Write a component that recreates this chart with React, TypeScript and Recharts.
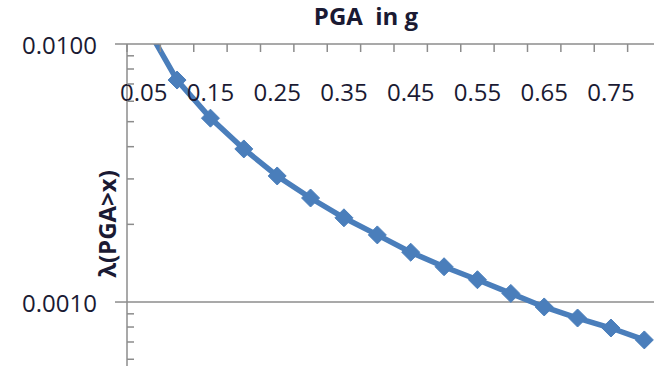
import { LineChart, Line, XAxis, YAxis, ReferenceLine, Label } from 'recharts';

// PGA levels (g) and annual exceedance rate λ(PGA > x)
const pga = [0.05, 0.1, 0.15, 0.2, 0.25, 0.3, 0.35, 0.4, 0.45, 0.5, 0.55, 0.6, 0.65, 0.7, 0.75, 0.8];
const lambda = [
  0.0122, 0.00725, 0.00516, 0.00392, 0.00308, 0.00253, 0.00212, 0.00182,
  0.00156, 0.00137, 0.00122, 0.00108, 0.000957, 0.000867, 0.000793, 0.000713,
];

const xTickLabels = ['0.05', '0.15', '0.25', '0.35', '0.45', '0.55', '0.65', '0.75'];
const xBoundaries = [
  0.025, 0.075, 0.125, 0.175, 0.225, 0.275, 0.325, 0.375, 0.425,
  0.475, 0.525, 0.575, 0.625, 0.675, 0.725, 0.775, 0.825,
];
const yMajorTicks = [0.01, 0.001];
const yMajorLabels = ['0.0100', '0.0010'];
const yMinorTicks = [0.009, 0.008, 0.007, 0.006, 0.005, 0.004, 0.003, 0.002, 0.0009, 0.0008, 0.0007, 0.0006];

const data = pga.map((x, i) => ({ pga: x, lambda: lambda[i] }));

const BLUE = '#4a7ebb';
const GRID = '#8c8c8c';
const FONT = '"Open Sans", sans-serif';
const TEXT = '#1a1a33';

const near = (a: number, b: number) => Math.abs(a - b) < 1e-6;

const XTick = ({ x, y, payload }: any) => {
  const v = payload.value;
  const labelIdx = xTickLabels.findIndex((l) => near(parseFloat(l), v));
  if (labelIdx >= 0) {
    return (
      <text x={x} y={y + 57} textAnchor="middle" fontSize={24} fontFamily={FONT} fill={TEXT}>
        {xTickLabels[labelIdx]}
      </text>
    );
  }
  return <line x1={x} y1={y} x2={x} y2={y + 8} stroke={GRID} strokeWidth={1.5} />;
};

const YTick = ({ x, y, payload }: any) => {
  const v = payload.value;
  const majorIdx = yMajorTicks.findIndex((t) => near(t, v));
  if (majorIdx >= 0) {
    return (
      <g>
        <line x1={x - 12} y1={y} x2={x} y2={y} stroke={GRID} strokeWidth={1.5} />
        <text x={x - 30} y={y + 10} textAnchor="end" fontSize={24} fontFamily={FONT} fill={TEXT}>
          {yMajorLabels[majorIdx]}
        </text>
      </g>
    );
  }
  return <line x1={x} y1={y} x2={x + 7} y2={y} stroke={GRID} strokeWidth={1.5} />;
};

const Diamond = ({ cx, cy, index }: any) => (
  <path
    key={`d-${index}`}
    d={`M${cx},${cy - 9}L${cx + 9},${cy}L${cx},${cy + 9}L${cx - 9},${cy}Z`}
    fill={BLUE}
    stroke={BLUE}
    strokeWidth={1}
    strokeLinejoin="round"
  />
);

export default function App() {
  return (
    <div style={{ position: 'absolute', top: 0, left: 0, width: 654, height: 366, overflow: 'hidden', background: '#fff' }}>
      <LineChart width={662} height={366} data={data} margin={{ top: 0, right: 1, bottom: 0, left: 0 }}>
        <XAxis
          dataKey="pga"
          type="number"
          domain={[0.025, 0.825]}
          orientation="top"
          height={44}
          ticks={[...xBoundaries, ...xTickLabels.map(Number)]}
          interval={0}
          tickLine={false}
          tickSize={0}
          tickMargin={0}
          axisLine={{ stroke: GRID, strokeWidth: 1.5 }}
          tick={<XTick />}
        />
        <YAxis
          dataKey="lambda"
          scale="log"
          domain={[0.000565, 0.01]}
          allowDataOverflow
          width={127}
          ticks={[...yMajorTicks, ...yMinorTicks]}
          interval={0}
          tickLine={false}
          tickSize={0}
          tickMargin={0}
          axisLine={{ stroke: GRID, strokeWidth: 1.5 }}
          tick={<YTick />}
        >
          <Label
            content={() => (
              <text
                x={116}
                y={224}
                transform="rotate(-90 116 224)"
                textAnchor="middle"
                fontSize={24}
                fontWeight="bold"
                fontFamily={FONT}
                fill={TEXT}
              >
                λ(PGA&gt;x)
              </text>
            )}
          />
        </YAxis>
        <ReferenceLine y={0.001} stroke={GRID} strokeWidth={1.5} />
        <Line
          type="linear"
          dataKey="lambda"
          stroke={BLUE}
          strokeWidth={5.5}
          dot={<Diamond />}
          activeDot={false}
          isAnimationActive={false}
        />
      </LineChart>
      <div
        style={{
          position: 'absolute',
          top: 0,
          left: 266,
          width: 200,
          lineHeight: '32px',
          textAlign: 'center',
          fontFamily: FONT,
          fontSize: 24,
          fontWeight: 'bold',
          color: TEXT,
          whiteSpace: 'pre',
        }}
      >
        PGA  in g
      </div>
    </div>
  );
}
